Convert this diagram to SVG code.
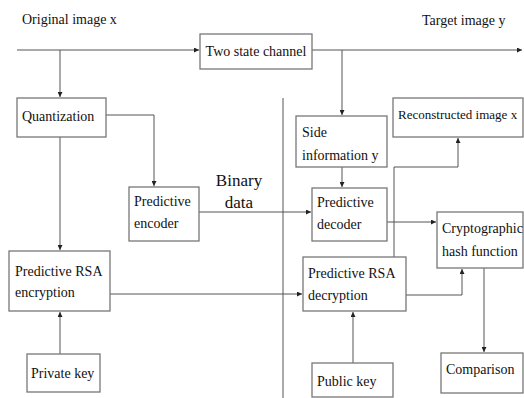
<svg xmlns="http://www.w3.org/2000/svg" width="524" height="398" viewBox="0 0 524 398">
<defs>
<marker id="ah" viewBox="0 0 6 6" refX="6" refY="3" markerWidth="5" markerHeight="5" orient="auto" markerUnits="userSpaceOnUse">
<path d="M0,0 L6,3 L0,6 z" fill="#222"/>
</marker>
<style>
.box{fill:#fff;stroke:#777;stroke-width:1.3}
.t{font-family:'Liberation Serif','DejaVu Serif','Times New Roman',serif;font-size:14px;fill:#111}
.big{font-size:17px}
.sm{font-size:13px}
.c{fill:none;stroke:#555;stroke-width:1}
</style>
</defs>
<rect width="524" height="398" fill="#fff"/>
<text class="t" x="22" y="24">Original image x</text>
<text class="t" x="422" y="25">Target image y</text>
<g id="connectors">
<path class="c" d="M17,50 H199" marker-end="url(#ah)"/>
<path class="c" d="M312,50 H522" marker-end="url(#ah)"/>
<path class="c" d="M60,50 V97" marker-end="url(#ah)"/>
<path class="c" d="M106,115 H154 V186" marker-end="url(#ah)"/>
<path class="c" d="M60,137 V250" marker-end="url(#ah)"/>
<path class="c" d="M60,354 V312" marker-end="url(#ah)"/>
<path class="c" d="M199,212 H311" marker-end="url(#ah)"/>
<path class="c" d="M110,294 H302" marker-end="url(#ah)"/>
<path class="c" d="M342,50 V115" marker-end="url(#ah)"/>
<path class="c" d="M342,167 V187" marker-end="url(#ah)"/>
<path class="c" d="M387,222 H436" marker-end="url(#ah)"/>
<path class="c" d="M394,257 V167 H458 V138" marker-end="url(#ah)"/>
<path class="c" d="M406,295 H462 V269" marker-end="url(#ah)"/>
<path class="c" d="M484,268 V352" marker-end="url(#ah)"/>
<path class="c" d="M353,363 V312" marker-end="url(#ah)"/>
<path class="c" d="M283,98 V398"/>
</g>
<g id="label-binary">
<text class="t big" x="239" y="186" text-anchor="middle">Binary</text>
<text class="t big" x="239" y="208" text-anchor="middle">data</text>
</g>
<g id="channel">
<rect class="box" x="200" y="34" width="112" height="35"/>
<text class="t" x="256" y="56" text-anchor="middle">Two state channel</text>
</g>
<g id="quantization">
<rect class="box" x="17" y="98" width="89" height="39"/>
<text class="t" x="22" y="121">Quantization</text>
</g>
<g id="encoder">
<rect class="box" x="129" y="187" width="70" height="54"/>
<text class="t" x="134" y="206">Predictive</text>
<text class="t" x="134" y="228">encoder</text>
</g>
<g id="rsa-enc">
<rect class="box" x="9" y="251" width="101" height="60"/>
<text class="t" x="15" y="276">Predictive RSA</text>
<text class="t" x="15" y="297">encryption</text>
</g>
<g id="private-key">
<rect class="box" x="27" y="354" width="73" height="38"/>
<text class="t" x="31" y="378">Private key</text>
</g>
<g id="side-info">
<rect class="box" x="296" y="116" width="91" height="51"/>
<text class="t" x="302" y="137">Side</text>
<text class="t" x="302" y="160">information y</text>
</g>
<g id="reconstructed">
<rect class="box" x="393" y="98" width="130" height="39"/>
<text class="t sm" x="398" y="119">Reconstructed image x</text>
</g>
<g id="decoder">
<rect class="box" x="312" y="188" width="75" height="53"/>
<text class="t" x="317" y="207">Predictive</text>
<text class="t" x="317" y="229">decoder</text>
</g>
<g id="hash">
<rect class="box" x="437" y="212" width="86" height="56"/>
<text class="t" x="442" y="233">Cryptographic</text>
<text class="t" x="442" y="256">hash function</text>
</g>
<g id="rsa-dec">
<rect class="box" x="303" y="257" width="103" height="54"/>
<text class="t" x="308" y="278">Predictive RSA</text>
<text class="t" x="308" y="300">decryption</text>
</g>
<g id="public-key">
<rect class="box" x="312" y="363" width="81" height="34"/>
<text class="t" x="317" y="386">Public key</text>
</g>
<g id="comparison">
<rect class="box" x="441" y="353" width="82" height="40"/>
<text class="t" x="446" y="374">Comparison</text>
</g>
</svg>
